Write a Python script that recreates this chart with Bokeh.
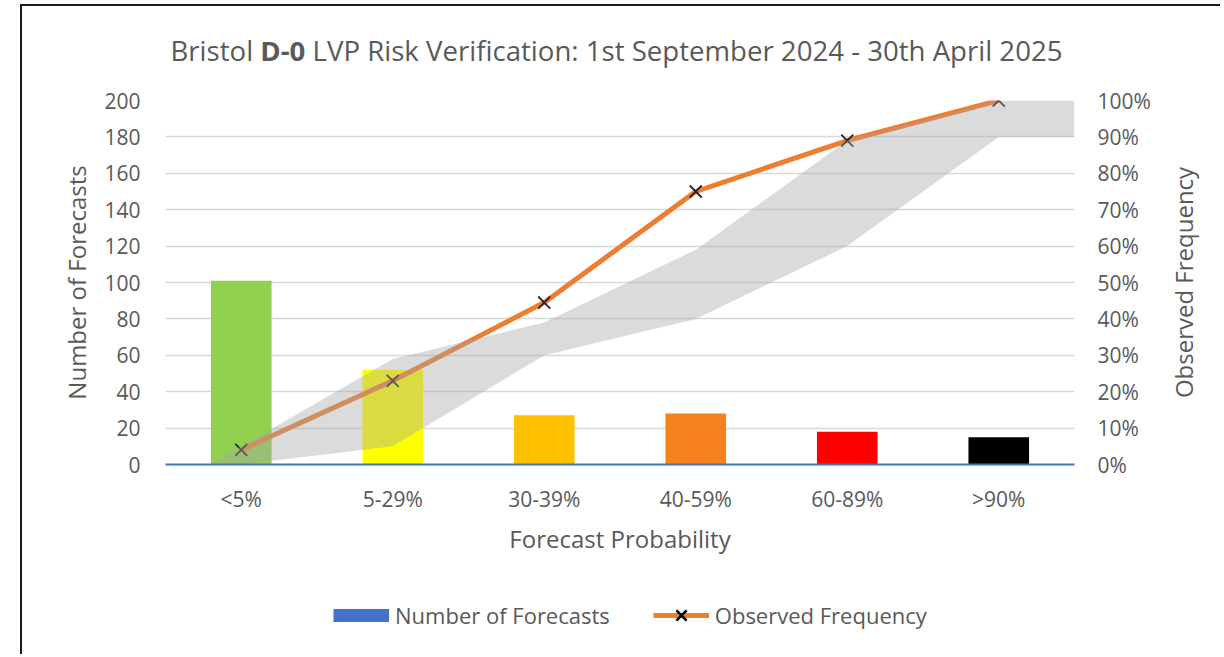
import math
from bokeh.plotting import figure
from bokeh.layouts import column, row
from bokeh.models import (Range1d, LinearAxis, FixedTicker, Legend, LegendItem, Div, Label,
                          PrintfTickFormatter)
from bokeh.embed import file_html
from bokeh.resources import INLINE

# ---------------- data ----------------
categories = ["<5%", "5-29%", "30-39%", "40-59%", "60-89%", ">90%"]
num_forecasts = [101, 52, 27, 28, 18, 15]
observed_freq = [4, 23, 44.5, 75, 89, 100]          # percent
expected_low = [0, 5, 30, 40, 60, 90]               # percent
expected_high = [5, 29, 39, 59, 89, 100]            # percent
bar_colors = ["#92D050", "#FFFF00", "#FFC000", "#F5821F", "#FF0000", "#000000"]
left_ticks = [0, 20, 40, 60, 80, 100, 120, 140, 160, 180, 200]
right_ticks = [0, 10, 20, 30, 40, 50, 60, 70, 80, 90, 100]

FONT = "Open Sans"
TXT = "#595959"
BAR_KEY = "#4472C4"
LINE_C = "#ED7D31"
MARK_C = "#262626"
NAN = float("nan")

xs = [i + 0.5 for i in range(len(categories))]

# band: extrapolate first segment of both edges to where they meet, extend last value to right edge
t = (expected_low[0] - expected_high[0]) / (
    (expected_high[1] - expected_high[0]) - (expected_low[1] - expected_low[0]))
apex_x = xs[0] + t
apex_y = expected_low[0] + t * (expected_low[1] - expected_low[0])
band_x = [apex_x] + xs + [len(categories)]
band_lo = [apex_y] + expected_low + [expected_low[-1]]
band_hi = [apex_y] + expected_high + [expected_high[-1]]

FW, FH = 909, 364
MB_L, MB_T, MB_R, MB_B = 143, 25, 82, 100

p = figure(frame_width=FW, frame_height=FH,
           x_range=Range1d(0, len(categories)), y_range=Range1d(0, 200),
           output_backend="svg", toolbar_location=None,
           min_border_left=MB_L, min_border_right=MB_R,
           min_border_top=MB_T, min_border_bottom=MB_B,
           outline_line_color=None, background_fill_color="white",
           border_fill_color="white")
p.extra_y_ranges = {"pct": Range1d(0, 100)}

# grid
p.xgrid.grid_line_color = None
p.ygrid.ticker = FixedTicker(ticks=left_ticks)
p.ygrid.grid_line_color = "#D9D9D9"
p.ygrid.grid_line_width = 1.5

# bars
p.vbar(x=xs, top=num_forecasts, width=0.4, fill_color=bar_colors, line_color=None)

# observed frequency line + markers
p.line(xs, observed_freq, y_range_name="pct", line_color=LINE_C,
       line_width=5, line_join="round")
p.scatter(xs, observed_freq, y_range_name="pct", marker="x", size=17,
          line_color=MARK_C, line_width=1.8)

# expected band (drawn on top, semi transparent)
p.varea(x=band_x, y1=band_lo, y2=band_hi, y_range_name="pct",
        fill_color="#A5A5A5", fill_alpha=0.4)

# axes
xa = p.xaxis[0]
xa.ticker = FixedTicker(ticks=xs)
xa.major_label_overrides = {x: c for x, c in zip(xs, categories)}
xa.axis_line_color = BAR_KEY
xa.axis_line_width = 2
xa.major_tick_line_color = None
xa.minor_tick_line_color = None
xa.major_label_standoff = 14
xa.axis_label = "Forecast Probability"
xa.axis_label_standoff = 6

ya = p.yaxis[0]
ya.ticker = FixedTicker(ticks=left_ticks)
ya.axis_line_color = None
ya.major_tick_line_color = None
ya.minor_tick_line_color = None
ya.major_label_standoff = 19
ya.axis_label = "Number of Forecasts"
ya.axis_label_standoff = 8

ra = LinearAxis(y_range_name="pct", ticker=FixedTicker(ticks=right_ticks),
                formatter=PrintfTickFormatter(format="%d%%"))
ra.axis_line_color = None
ra.major_tick_line_color = None
ra.minor_tick_line_color = None
ra.major_label_standoff = 17
p.add_layout(ra, "right")

for ax in (xa, ya, ra):
    ax.major_label_text_font = FONT
    ax.major_label_text_font_size = "21px"
    ax.major_label_text_color = TXT
    ax.axis_label_text_font = FONT
    ax.axis_label_text_font_size = "24px"
    ax.axis_label_text_font_style = "normal"
    ax.axis_label_text_color = TXT

P_W = MB_L + FW + MB_R

# right-hand axis title (reads bottom to top), in its own narrow canvas aligned with the frame
RL_W = 54
rl = figure(frame_width=RL_W, frame_height=FH, x_range=Range1d(0, 1), y_range=Range1d(0, 1),
            x_axis_type=None, y_axis_type=None, output_backend="svg",
            toolbar_location=None, min_border_left=0, min_border_right=0,
            min_border_top=MB_T, min_border_bottom=MB_B, outline_line_color=None,
            background_fill_color="white", border_fill_color="white")
rl.xgrid.visible = False
rl.ygrid.visible = False
rl.add_layout(Label(x=0.5, y=0.5, text="Observed Frequency", angle=math.pi / 2,
                    text_align="center", text_baseline="middle", text_font=FONT,
                    text_font_size="24px", text_color=TXT))

# legend in its own canvas below
LG_H = 90
lg = figure(width=P_W + RL_W, height=LG_H, x_range=Range1d(0, 1), y_range=Range1d(0, 1),
            x_axis_type=None, y_axis_type=None, output_backend="svg",
            toolbar_location=None, min_border=0, outline_line_color=None,
            background_fill_color="white", border_fill_color="white")
lg.xgrid.visible = False
lg.ygrid.visible = False
k_bar = lg.line(x=[NAN], y=[NAN], line_color=BAR_KEY, line_width=13)
k_line = lg.line(x=[NAN], y=[NAN], line_color=LINE_C, line_width=5)
k_mark = lg.scatter(x=[NAN], y=[NAN], marker="x", size=17, line_color="#000000", line_width=2.6)
legend = Legend(items=[LegendItem(label="Number of Forecasts", renderers=[k_bar]),
                       LegendItem(label="Observed Frequency", renderers=[k_line, k_mark])],
                orientation="horizontal", location=(311, 21),
                glyph_width=56, glyph_height=36, label_standoff=6, spacing=43,
                padding=0, margin=0, border_line_color=None, background_fill_alpha=0,
                label_text_font=FONT, label_text_font_size="22px", label_text_color=TXT)
lg.add_layout(legend)

title = Div(text="Bristol <b>D-0</b> LVP Risk Verification: 1st September 2024 - 30th April 2025",
            width=P_W + RL_W, height=59,
            styles={"font-family": FONT, "font-size": "27.6px", "color": TXT,
                    "text-align": "center", "line-height": "1", "padding-top": "26px",
                    "padding-right": "9px", "box-sizing": "border-box"})

layout = column(title, row(p, rl), lg,
                styles={"margin-left": "20px", "margin-top": "4px",
                        "border-top": "2px solid #1a1a1a",
                        "border-left": "2px solid #1a1a1a"})

open("out.html", "w").write(file_html(layout, INLINE))
